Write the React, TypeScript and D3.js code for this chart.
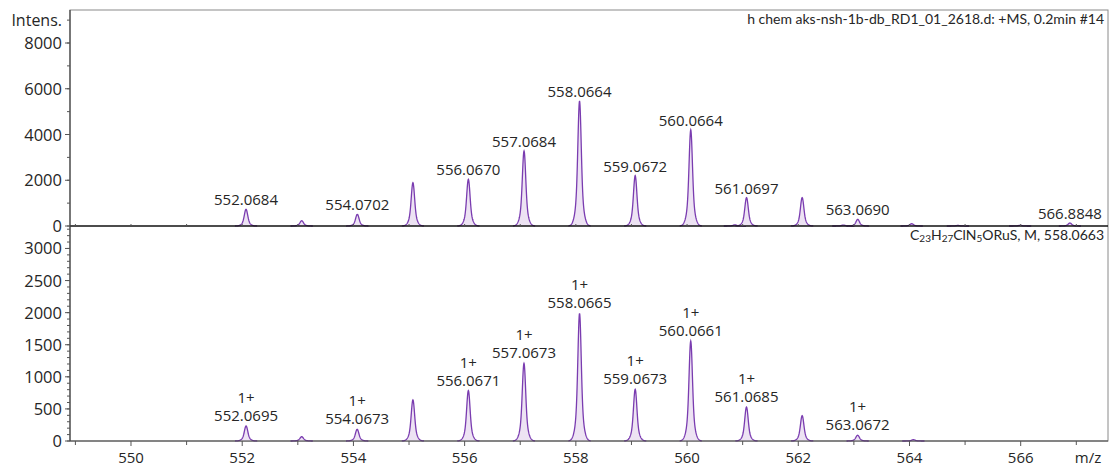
import React from "react";
import * as d3 from "d3";

// ---- data ----
// measured spectrum (top panel): m/z, intensity, label
const measMz = [552.0684, 553.07, 554.0702, 555.07, 556.067, 557.0684, 558.0664, 559.0672, 560.0664, 560.86, 561.0697, 562.07, 562.81, 563.069, 564.04, 564.87, 565.99, 566.8848];
const measInt = [730, 230, 510, 1890, 2040, 3280, 5465, 2200, 4200, 50, 1240, 1240, 40, 290, 100, 25, 30, 130];
const measLabel = ["552.0684", "", "554.0702", "", "556.0670", "557.0684", "558.0664", "559.0672", "560.0664", "", "561.0697", "", "", "563.0690", "", "", "", "566.8848"];

// simulated pattern (bottom panel)
const simMz = [552.0695, 553.07, 554.0673, 555.07, 556.0671, 557.0673, 558.0665, 559.0673, 560.0661, 561.0685, 562.07, 563.0672, 564.07];
const simInt = [234, 67, 182, 640, 785, 1210, 1990, 805, 1558, 530, 395, 90, 20];
const simLabel = ["552.0695", "", "554.0673", "", "556.0671", "557.0673", "558.0665", "559.0673", "560.0661", "561.0685", "", "563.0672", ""];
const simCharge = "1+";

const xTicks = [550, 552, 554, 556, 558, 560, 562, 564, 566];
const xMinor = [549, 551, 553, 555, 557, 559, 561, 563, 565, 567];
const topTicks = [0, 2000, 4000, 6000, 8000];
const botTicks = [0, 500, 1000, 1500, 2000, 2500, 3000];

const title = "h chem aks-nsh-1b-db_RD1_01_2618.d: +MS, 0.2min #14";

const W = 1112, H = 468;
const L = 70, R = 1108, T = 10, MID = 226, B = 441;

const x = d3.scaleLinear().domain([548.903, 567.57]).range([L, R]);
const yTop = d3.scaleLinear().domain([0, 9443]).range([MID, T]);
const yBot = d3.scaleLinear().domain([0, 3350]).range([B, MID]);

const STROKE = "#7a3cb0";
const FILL = "#ede3f3";
const TXT = "#262626";
const TICKC = "#555";
const FONT = "'Open Sans', sans-serif";

// peak profile (rendering shape only)
const offsets = d3.range(-0.2, 0.2001, 0.004);
const shape = (d: number) =>
  0.72 * Math.exp(-(d * d) / (2 * 0.028 * 0.028)) + 0.28 * Math.exp(-(d * d) / (2 * 0.06 * 0.06));

function peakPath(mz: number, inten: number, y: d3.ScaleLinear<number, number>) {
  const pts = offsets.map((d) => [mz + d, inten * shape(d)] as [number, number]);
  const area = d3
    .area<[number, number]>()
    .x((p) => x(p[0]))
    .y0(y(0))
    .y1((p) => y(p[1]));
  const line = d3
    .line<[number, number]>()
    .x((p) => x(p[0]))
    .y((p) => y(p[1]));
  return { area: area(pts) || "", line: line(pts) || "" };
}

export default function App() {
  const topMinor = d3.range(0, 9443, 1000);
  const botMinor = d3.range(0, 3350, 100);
  const intTicks = d3.range(549, 568, 1);
  return (
    <svg width={W} height={H} style={{ position: "absolute", left: 0, top: 0, display: "block", background: "#fff" }}>
      {/* frame */}
      <rect x={L} y={T} width={R - L} height={B - T} fill="none" stroke="#8a8a8a" strokeWidth={1} />

      {/* top panel peaks */}
      {measMz.map((mz, i) => {
        const p = peakPath(mz, measInt[i], yTop);
        return (
          <g key={"m" + i}>
            <path d={p.area} fill={FILL} />
            <path d={p.line} fill="none" stroke={STROKE} strokeWidth={1.3} />
          </g>
        );
      })}
      {measMz.map((mz, i) =>
        measLabel[i] ? (
          <text key={"ml" + i} x={x(mz)} y={yTop(measInt[i]) - 4} textAnchor="middle" fontFamily={FONT} fontSize={15} fill={TXT}>
            {measLabel[i]}
          </text>
        ) : null
      )}

      {/* bottom panel peaks */}
      {simMz.map((mz, i) => {
        const p = peakPath(mz, simInt[i], yBot);
        return (
          <g key={"s" + i}>
            <path d={p.area} fill={FILL} />
            <path d={p.line} fill="none" stroke={STROKE} strokeWidth={1.3} />
          </g>
        );
      })}
      {simMz.map((mz, i) =>
        simLabel[i] ? (
          <g key={"sl" + i}>
            <text x={x(mz)} y={yBot(simInt[i]) - 5} textAnchor="middle" fontFamily={FONT} fontSize={15} fill={TXT}>
              {simLabel[i]}
            </text>
            <text x={x(mz)} y={yBot(simInt[i]) - 23} textAnchor="middle" fontFamily={FONT} fontSize={15} fill={TXT}>
              {simCharge}
            </text>
          </g>
        ) : null
      )}

      {/* middle zero line */}
      <line x1={L} x2={R} y1={MID} y2={MID} stroke="#111" strokeWidth={1.6} />
      {intTicks.map((v) => (
        <line key={"it" + v} x1={x(v)} x2={x(v)} y1={MID} y2={MID - 2} stroke={TICKC} />
      ))}
      {/* bottom axis */}
      <line x1={L} x2={R} y1={B} y2={B} stroke="#444" strokeWidth={1.2} />
      {xTicks.map((v) => (
        <g key={"xt" + v}>
          <line x1={x(v)} x2={x(v)} y1={B} y2={B + 5} stroke={TICKC} />
          <text x={x(v)} y={B + 22} textAnchor="middle" fontFamily={FONT} fontSize={15} fill={TXT}>
            {v}
          </text>
        </g>
      ))}
      {xMinor.map((v) => (
        <line key={"xm" + v} x1={x(v)} x2={x(v)} y1={B} y2={B + 4} stroke={TICKC} />
      ))}
      <text x={1088} y={B + 22} textAnchor="middle" fontFamily={FONT} fontSize={15} fill={TXT}>
        m/z
      </text>

      {/* left axis */}
      <line x1={L} x2={L} y1={T} y2={B} stroke="#444" strokeWidth={1.2} />
      {topMinor.map((v) => (
        <line key={"tm" + v} x1={L - 3} x2={L} y1={yTop(v)} y2={yTop(v)} stroke={TICKC} />
      ))}
      {topTicks.map((v) => (
        <g key={"tt" + v}>
          <line x1={L - 5} x2={L} y1={yTop(v)} y2={yTop(v)} stroke={TICKC} />
          <text x={62} y={yTop(v) + 6} textAnchor="end" fontFamily={FONT} fontSize={16.5} fill={TXT}>
            {v}
          </text>
        </g>
      ))}
      <text x={62} y={yTop(9000) + 6} textAnchor="end" fontFamily={FONT} fontSize={16} fill={TXT}>
        Intens.
      </text>
      {botMinor.map((v) => (
        <line key={"bm" + v} x1={L - 3} x2={L} y1={yBot(v)} y2={yBot(v)} stroke={TICKC} />
      ))}
      {botTicks.map((v) => (
        <g key={"bt" + v}>
          <line x1={L - 5} x2={L} y1={yBot(v)} y2={yBot(v)} stroke={TICKC} />
          <text x={62} y={yBot(v) + 6} textAnchor="end" fontFamily={FONT} fontSize={16.5} fill={TXT}>
            {v}
          </text>
        </g>
      ))}

      {/* titles */}
      <text x={1104} y={24} textAnchor="end" fontFamily="Lato, sans-serif" fontSize={14} fill={TXT}>
        {title}
      </text>
      <text x={1104} y={240} textAnchor="end" fontFamily="Lato, sans-serif" fontSize={14} fill={TXT}>
        C<tspan fontSize={10} dy={2}>23</tspan>
        <tspan dy={-2}>H</tspan>
        <tspan fontSize={10} dy={2}>27</tspan>
        <tspan dy={-2}>ClN</tspan>
        <tspan fontSize={10} dy={2}>5</tspan>
        <tspan dy={-2}>ORuS, M, 558.0663</tspan>
      </text>
    </svg>
  );
}
